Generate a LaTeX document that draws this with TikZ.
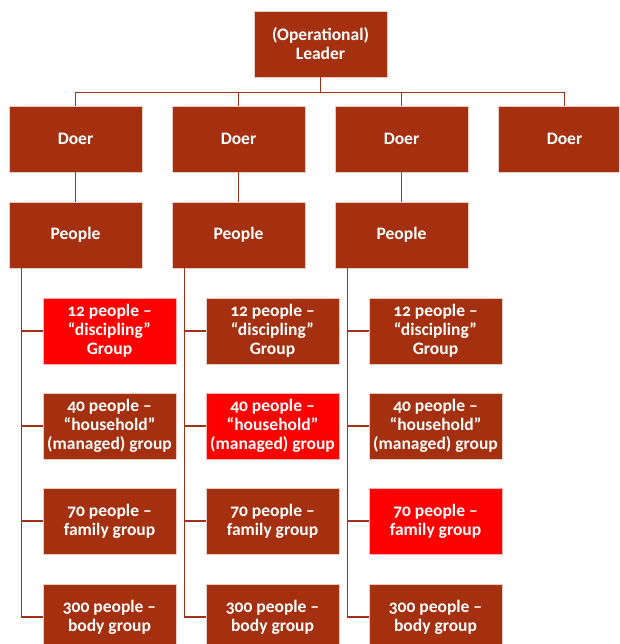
\documentclass[tikz,border=0pt]{standalone}
\usepackage{fontspec}
\setmainfont{Carlito}[Numbers=OldStyle]
\definecolor{boxred}{RGB}{164,48,16}
\definecolor{hotred}{RGB}{255,0,0}
\definecolor{linered}{RGB}{160,50,25}
\tikzset{
  orgbox/.style={rectangle, fill=boxred, draw=white!75!boxred, line width=0.6pt,
    minimum width=133pt, minimum height=66pt, inner sep=1pt,
    text=white, font=\fontsize{17.5}{19}\selectfont\bfseries, align=center},
  hotbox/.style={orgbox, fill=hotred, draw=white!70!hotred},
  link/.style={draw=linered, line width=1.3pt}
}
\begin{document}
\begin{tikzpicture}[x=1pt,y=-1pt]
\clip (0,0) rectangle (619,644);
\fill[white] (0,0) rectangle (619,644);

% top of the hierarchy
\node[orgbox] (leader) at (320.5,44) {(Operational)\\Leader};

% doers and their people
\foreach \i/\x in {1/75.5,2/238.5,3/401.5,4/564.5}
  \node[orgbox] (doer\i) at (\x,139) {Doer};
\foreach \i/\x in {1/75.5,2/238.5,3/401.5}
  \node[orgbox] (people\i) at (\x,235) {People};

% group boxes per column
\foreach \i/\x in {1/109.5,2/272.5,3/435.5}{
  \node[orgbox] (sub\i a) at (\x,331) {12 people –\\“discipling”\\Group};
  \node[orgbox] (sub\i b) at (\x,426) {40 people –\\“household”\\(managed) group};
  \node[orgbox] (sub\i c) at (\x,521) {70 people –\\family group};
  \node[orgbox] (sub\i d) at (\x,617) {300 people –\\body group};
}
% highlighted groups
\node[hotbox] at (sub1a) {12 people –\\“discipling”\\Group};
\node[hotbox] at (sub2b) {40 people –\\“household”\\(managed) group};
\node[hotbox] at (sub3c) {70 people –\\family group};

% connectors
\foreach \i in {1,2,3,4}
  \draw[link] (leader.south) -- ++(0,15) -| (doer\i.north);
\foreach \i in {1,2,3}{
  \draw[link] (doer\i.south) -- (people\i.north);
  \coordinate (spine\i) at ([xshift=13pt]people\i.south west);
  \foreach \j in {a,b,c,d}
    \draw[link] (spine\i) |- (sub\i\j.west);
}
\end{tikzpicture}
\end{document}
